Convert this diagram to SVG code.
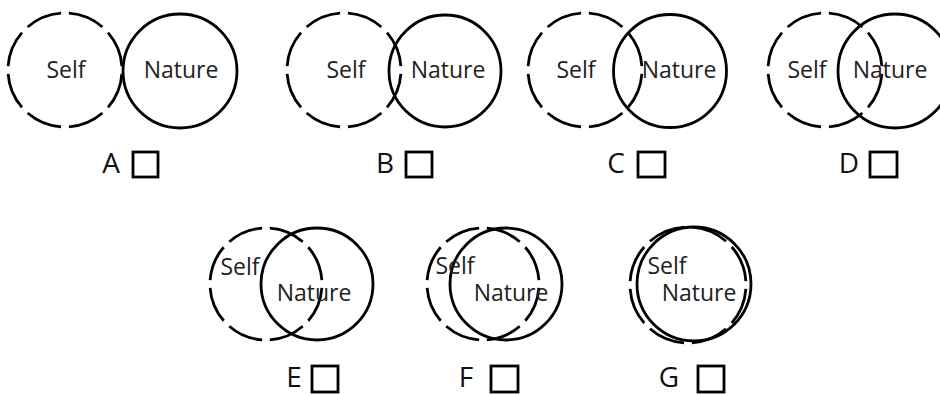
<svg xmlns="http://www.w3.org/2000/svg" width="940" height="394" viewBox="0 0 940 394">
<style>
.self{fill:none;stroke:#000;stroke-width:2.8;stroke-dasharray:37 8;stroke-dashoffset:41}
.nat{fill:none;stroke:#000;stroke-width:2.8}
.t{font-family:"Open Sans","Liberation Sans",sans-serif;font-size:23px;fill:#222;text-anchor:middle}
.l{font-family:"Open Sans","Liberation Sans",sans-serif;font-size:28px;fill:#111;text-anchor:middle}
.box{fill:none;stroke:#000;stroke-width:2.8}
</style>
<rect width="940" height="394" fill="#fff"/>
<g id="A">
<circle class="self" cx="65" cy="70" r="57" pathLength="360"/>
<circle class="nat" cx="180" cy="71" r="57"/>
<text class="t" x="66" y="78">Self</text>
<text class="t" x="181" y="78">Nature</text>
<text class="l" x="111" y="173">A</text>
<rect class="box" x="133" y="152" width="25" height="25"/>
</g>
<g id="B">
<circle class="self" cx="344" cy="70" r="57" pathLength="360"/>
<circle class="nat" cx="445" cy="71" r="56"/>
<text class="t" x="346" y="78">Self</text>
<text class="t" x="448" y="78">Nature</text>
<text class="l" x="385" y="173">B</text>
<rect class="box" x="406" y="152" width="26" height="25"/>
</g>
<g id="C">
<circle class="self" cx="585" cy="70" r="57" pathLength="360"/>
<circle class="nat" cx="670" cy="71" r="56.5"/>
<text class="t" x="576" y="78">Self</text>
<text class="t" x="679" y="78">Nature</text>
<text class="l" x="616" y="173">C</text>
<rect class="box" x="638" y="152" width="27" height="25"/>
</g>
<g id="D">
<circle class="self" cx="825" cy="70" r="57" pathLength="360"/>
<circle class="nat" cx="895" cy="71" r="57"/>
<text class="t" x="807" y="78">Self</text>
<text class="t" x="890" y="78">Nature</text>
<text class="l" x="849" y="173">D</text>
<rect class="box" x="870" y="152" width="27" height="25"/>
</g>
<g id="E">
<circle class="self" cx="266" cy="284" r="56" pathLength="360"/>
<circle class="nat" cx="317" cy="284" r="56"/>
<text class="t" x="240" y="275">Self</text>
<text class="t" x="314" y="301">Nature</text>
<text class="l" x="294" y="387">E</text>
<rect class="box" x="312" y="366" width="26" height="26"/>
</g>
<g id="F">
<circle class="self" cx="483" cy="284" r="56" pathLength="360"/>
<circle class="nat" cx="506" cy="284" r="56"/>
<text class="t" x="455" y="274">Self</text>
<text class="t" x="511" y="301">Nature</text>
<text class="l" x="466" y="387">F</text>
<rect class="box" x="491" y="366" width="27" height="26"/>
</g>
<g id="G">
<circle class="self" cx="688" cy="285" r="58" pathLength="360"/>
<circle class="nat" cx="694" cy="284" r="57"/>
<text class="t" x="667" y="274">Self</text>
<text class="t" x="699" y="301">Nature</text>
<text class="l" x="669" y="387">G</text>
<rect class="box" x="698" y="366" width="26" height="26"/>
</g>
<g id="connectors"></g>
</svg>
